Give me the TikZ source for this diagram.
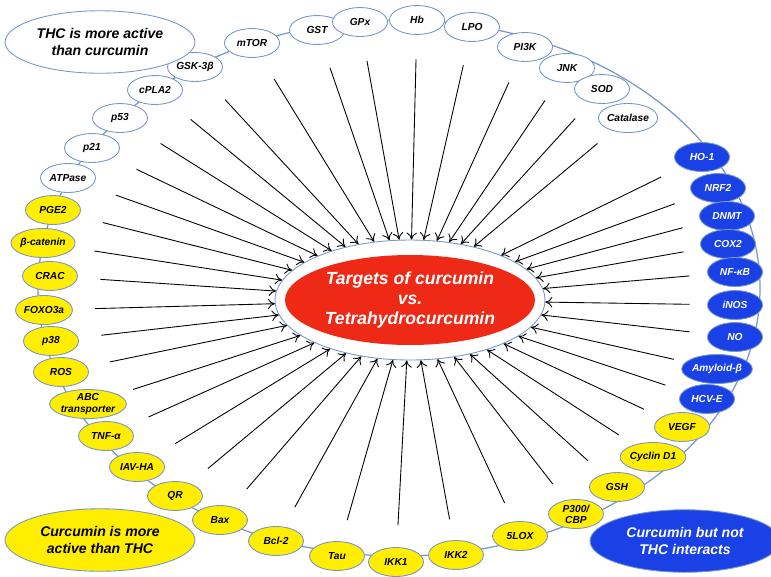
\documentclass[tikz,border=0pt]{standalone}
\usepackage{fontspec}
\setsansfont{Liberation Sans}
\usepackage{tikz}
\usetikzlibrary{calc,shapes.geometric,arrows.meta}
\definecolor{ringblue}{RGB}{120,150,200}
\definecolor{tyellow}{RGB}{255,238,0}
\definecolor{tblue}{RGB}{25,65,230}
\definecolor{tred}{RGB}{238,42,22}

\begin{document}
\begin{tikzpicture}[x = 0.02cm, y = -0.02cm, line width = 0.5pt, >={To[length=4pt,width=6pt]},
                    lbl/.style = {ellipse, draw = ringblue, line width = 0.5pt, inner sep = 0pt,
                                  minimum width = 1.1cm, minimum height = 0.58cm, align = center,
                                  font = \sffamily\bfseries\itshape\fontsize{5.8}{6.3}\selectfont},
                    white/.style = {lbl, fill = white},
                    yel/.style = {lbl, fill = tyellow},
                    blu/.style = {lbl, fill = tblue, text = white},
                    big/.style = {lbl, minimum width = 3.8cm, minimum height = 1.25cm,
                                  font = \sffamily\bfseries\itshape\fontsize{8}{10}\selectfont}]
  \useasboundingbox (0,0) rectangle (771,576);

  \draw [ringblue, line width = 0.7pt] (399,288) ellipse (361 and 268);
  \node [ellipse, draw = ringblue, fill = white, minimum width = 5.4cm, minimum height = 2.4cm] (inner) at (410,300) {};
  \node [ellipse, fill = tred, text = white, inner sep = 0pt, minimum width = 5.0cm, minimum height = 1.8cm, align = center,
         font = \sffamily\bfseries\itshape\fontsize{10}{11.5}\selectfont] (core) at (410,300)
        {Targets of curcumin\\vs.\\Tetrahydrocurcumin};

  % THC more active
  \foreach \n/\x/\y/\t in {W1/317/30/GST, W2/360/22/GPx, W3/417/20/Hb, W4/472/27/LPO, W5/525/47/PI3K,
                           W6/567/68/JNK, W7/602/89/SOD, W8/628/118/Catalase, W9/252/43/mTOR,
                           W10/195/67/GSK-3β, W11/155/90/cPLA2, W12/120/118/p53, W13/92/148/p21,
                           W14/68/178/ATPase}
  {
    \node [white] (\n) at (\x,\y) {\t};
    \draw [->] ($(inner.center)!0.86!(\n)$) -- (inner);
  }

  % curcumin only
  \foreach \n/\x/\y/\t in {B1/702/157/HO-1, B2/718/188/NRF2, B3/727/216/DNMT, B4/728/244/COX2,
                           B5/735/272/NF-κB, B6/735/305/iNOS, B7/735/337/NO, B8/717/369/Amyloid-β,
                           B9/707/399/HCV-E}
  {
    \node [blu] (\n) at (\x,\y) {\t};
    \draw [->] ($(inner.center)!0.86!(\n)$) -- (inner);
  }

  % curcumin more active
  \foreach \n/\x/\y/\t in {Y1/53/210/PGE2, Y2/43/243/β-catenin, Y3/50/276/CRAC, Y4/44/310/FOXO3a,
                           Y5/51/341/p38, Y6/61/372/ROS, Y7/88/404/{ABC\\transporter}, Y8/106/436/TNF-α,
                           Y9/137/467/IAV-HA, Y10/175/496/QR, Y11/220/520/Bax, Y12/276/541/Bcl-2,
                           Y13/337/556/Tau, Y14/396/562/IKK1, Y15/456/555/IKK2, Y16/520/536/5LOX,
                           Y17/576/514/{P300/\\CBP}, Y18/617/487/GSH, Y19/653/457/Cyclin D1, Y20/682/427/VEGF}
  {
    \node [yel] (\n) at (\x,\y) {\t};
    \draw [->] ($(inner.center)!0.86!(\n)$) -- (inner);
  }

  \node [big, fill = white] (keyW) at (100,42) {THC is more active\\than curcumin};
  \node [big, fill = tyellow] (keyY) at (100,540) {Curcumin is more\\active than THC};
  \node [big, fill = tblue, text = white] (keyB) at (685,541) {Curcumin but not\\THC interacts};
\end{tikzpicture}
\end{document}
